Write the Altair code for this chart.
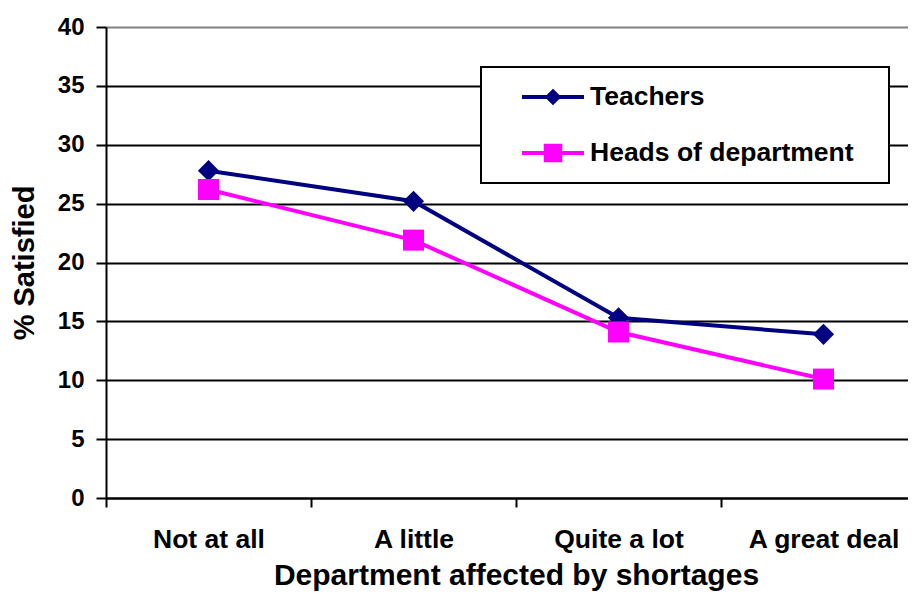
import json
import altair as alt
import pandas as pd

categories = ["Not at all", "A little", "Quite a lot", "A great deal"]
series_names = ["Teachers", "Heads of department"]
teachers = [27.8, 25.2, 15.3, 13.9]
heads = [26.2, 21.9, 14.1, 10.1]
y_ticks = [0, 5, 10, 15, 20, 25, 30, 35, 40]
colors = ["#000080", "#FF00FF"]
x_title = "Department affected by shortages"
y_title = "% Satisfied"

# legend symbols: a line segment with the series marker on it
legend_paths = [
    "M-1,0L1,0M0,-0.177L0.177,0L0,0.177L-0.177,0Z",
    "M-1,0L1,0M-0.235,-0.235L0.235,-0.235L0.235,0.235L-0.235,0.235Z",
]

rows = []
for i, c in enumerate(categories):
    rows.append({"category": c, "pos": i + 0.5, "series": series_names[0], "value": teachers[i]})
    rows.append({"category": c, "pos": i + 0.5, "series": series_names[1], "value": heads[i]})
df = pd.DataFrame(rows)

FONT = "Liberation Sans"
label_expr = json.dumps(categories) + "[datum.value]"

PLOT_W = 802
BAND = 205

x_enc = alt.X(
    "pos:Q",
    scale=alt.Scale(domain=[0, PLOT_W / BAND], nice=False, zero=False),
    axis=alt.Axis(
        values=[0, 1, 2, 3],
        labelExpr=label_expr,
        labelOffset=BAND / 2,
        labelOverlap=False,
        labelFlush=False,
        labelAlign="center",
        grid=False,
        tickSize=9,
        tickWidth=2,
        tickColor="black",
        domainColor="black",
        domainWidth=2,
        labelFont=FONT,
        labelFontSize=26.5,
        labelFontWeight="bold",
        labelColor="black",
        labelPadding=19,
        titleFont=FONT,
        titleFontSize=30,
        titleFontWeight="bold",
        titleColor="black",
        titlePadding=8,
        titleX=BAND * 2,
    ),
    title=x_title,
)
y_enc = alt.Y(
    "value:Q",
    scale=alt.Scale(domain=[0, 40], nice=False),
    axis=alt.Axis(
        values=y_ticks,
        grid=True,
        gridColor={"condition": {"test": "datum.value === 40", "value": "#808080"}, "value": "black"},
        gridWidth=2,
        tickSize=10,
        tickWidth=2,
        tickColor="black",
        domainColor="black",
        domainWidth=2,
        labelFont=FONT,
        labelFontSize=24,
        labelFontWeight="bold",
        labelColor="black",
        labelPadding=12,
        titleFont=FONT,
        titleFontSize=29,
        titleFontWeight="bold",
        titleColor="black",
        titlePadding=18,
    ),
    title=y_title,
)

color_scale = alt.Scale(domain=series_names, range=colors)

leg = alt.Legend(
    orient="none",
    legendX=375,
    legendY=40,
    title="M",
    titleOrient="right",
    titleColor="white",
    titleFontSize=16,
    titlePadding=5,
    padding=16,
    strokeColor="black",
    fillColor="white",
    symbolSize=3844,
    symbolStrokeWidth=4,
    symbolStrokeColor={"expr": "datum.value === 'Teachers' ? '#000080' : '#FF00FF'"},
    symbolOpacity=1,
    symbolOffset=23,
    labelFont=FONT,
    labelFontSize=26.5,
    labelFontWeight="bold",
    labelColor="black",
    labelOffset=4,
    labelLimit=500,
    clipHeight=28,
    rowPadding=28,
)

base = alt.Chart(df)

# invisible layer that carries the legend (drawn first, explicit legend wins)
carrier = base.mark_point(filled=True, opacity=0, size=3844).encode(
    x=x_enc, y=y_enc,
    color=alt.Color("series:N", scale=color_scale, legend=leg),
    shape=alt.Shape("series:N", scale=alt.Scale(domain=series_names, range=legend_paths), legend=leg),
)
lines = base.mark_line(strokeWidth=4).encode(
    x=x_enc, y=y_enc,
    color=alt.Color("series:N", scale=color_scale, legend=None),
)
pts_t = base.transform_filter(alt.datum.series == series_names[0]).mark_point(
    shape="diamond", filled=True, size=450, opacity=1
).encode(x=x_enc, y=y_enc, color=alt.Color("series:N", scale=color_scale, legend=None))
pts_h = base.transform_filter(alt.datum.series == series_names[1]).mark_point(
    shape="square", filled=True, size=441, opacity=1
).encode(x=x_enc, y=y_enc, color=alt.Color("series:N", scale=color_scale, legend=None))

chart = (
    alt.layer(carrier, lines, pts_t, pts_h)
    .properties(width=PLOT_W, height=471, padding={"left": 2, "top": 7, "right": 0, "bottom": 0})
    .configure_view(stroke=None)
    .configure_legend(strokeWidth=2)
)

chart.save("out.html", embed_options={"renderer": "svg", "actions": False})
